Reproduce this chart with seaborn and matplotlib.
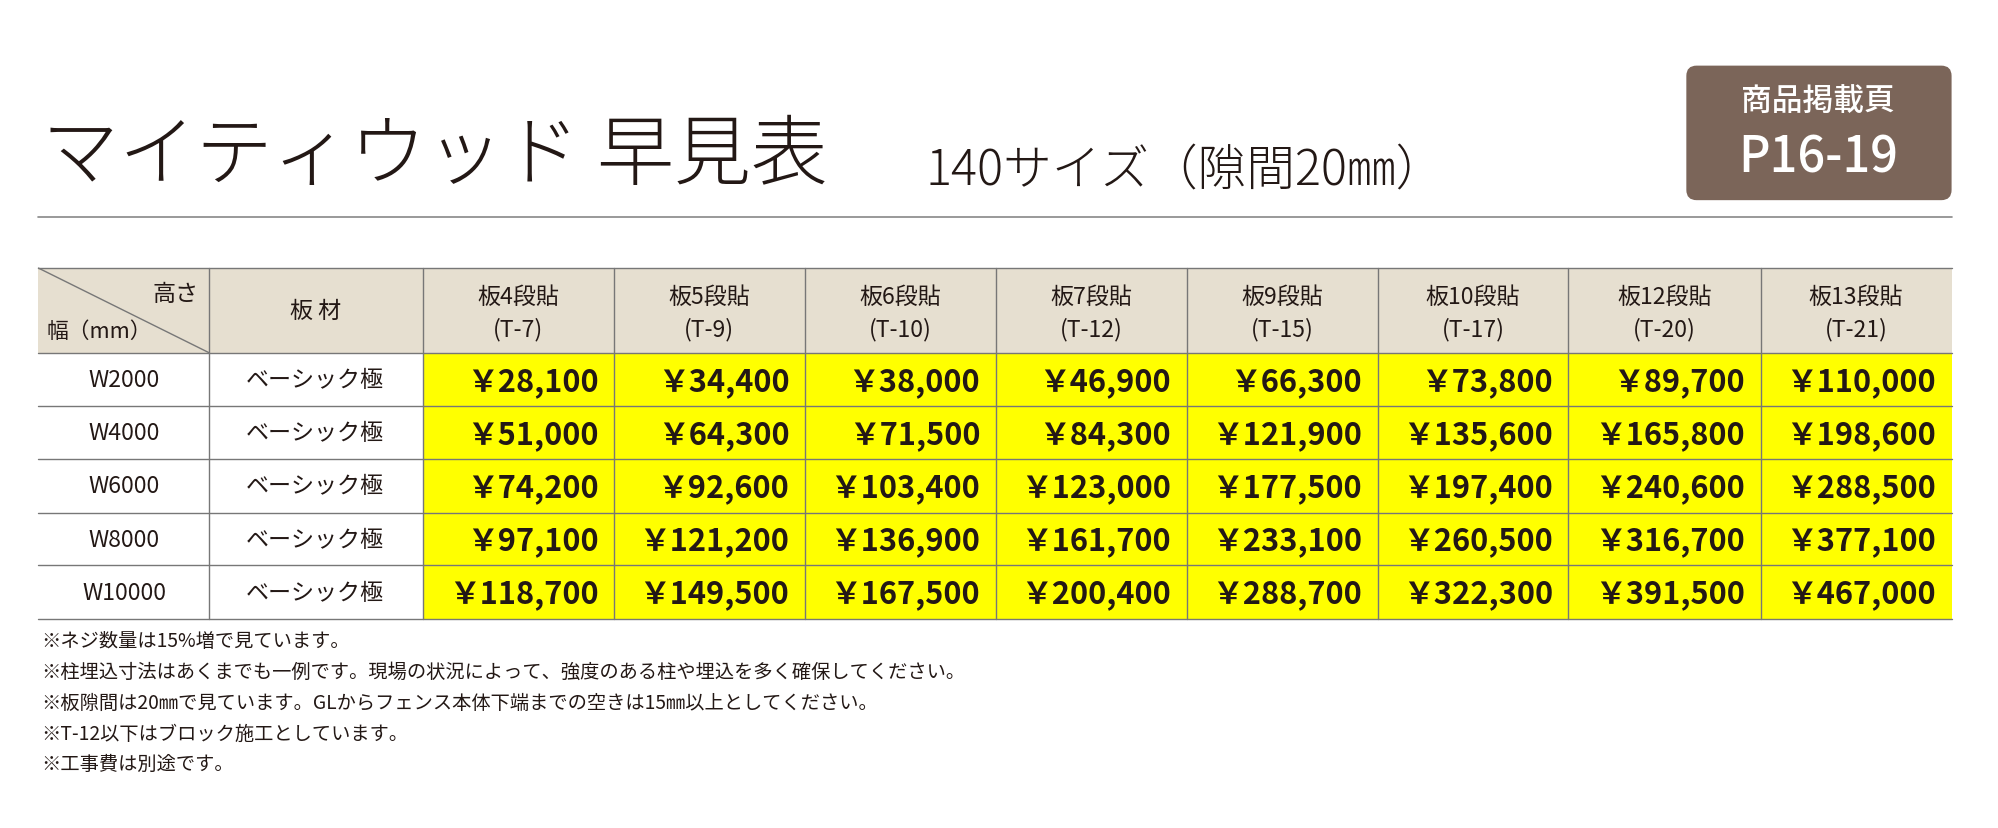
import matplotlib
matplotlib.use("Agg")
import matplotlib.pyplot as plt
import seaborn as sns
from matplotlib.patches import FancyBboxPatch, Rectangle

sns.set_theme(style="white")
plt.rcParams['font.family'] = ['Noto Sans CJK JP', 'DejaVu Sans']

title = "マイティウッド 早見表"
subtitle = "140サイズ（隙間20㎜）"
badge_top = "商品掲載頁"
badge_bottom = "P16-19"
col_heads = ["板4段貼\n(T-7)", "板5段貼\n(T-9)", "板6段貼\n(T-10)", "板7段貼\n(T-12)",
             "板9段貼\n(T-15)", "板10段貼\n(T-17)", "板12段貼\n(T-20)", "板13段貼\n(T-21)"]
widths = ["W2000", "W4000", "W6000", "W8000", "W10000"]
material = ["ベーシック極"] * 5
prices = [
    [28100, 34400, 38000, 46900, 66300, 73800, 89700, 110000],
    [51000, 64300, 71500, 84300, 121900, 135600, 165800, 198600],
    [74200, 92600, 103400, 123000, 177500, 197400, 240600, 288500],
    [97100, 121200, 136900, 161700, 233100, 260500, 316700, 377100],
    [118700, 149500, 167500, 200400, 288700, 322300, 391500, 467000],
]
notes = [
    "※ネジ数量は15%増で見ています。",
    "※柱埋込寸法はあくまでも一例です。現場の状況によって、強度のある柱や埋込を多く確保してください。",
    "※板隙間は20㎜で見ています。GLからフェンス本体下端までの空きは15㎜以上としてください。",
    "※T-12以下はブロック施工としています。",
    "※工事費は別途です。",
]

W, H = 1560, 647
S = 1999 / 1560
def fs(px):
    return px * S * 0.72

fig = plt.figure(figsize=(19.99, 8.29), dpi=100)
ax = fig.add_axes([0, 0, 1, 1])
ax.set_xlim(0, W); ax.set_ylim(H, 0); ax.axis('off')

txt = '#231815'
ax.text(33, 140, title, fontsize=fs(60), color=txt, va='baseline', ha='left', fontweight='light')
ax.text(722, 145, subtitle, fontsize=fs(38), color=txt, va='baseline', ha='left', fontweight='light')
ax.plot([30, 1523], [170, 170], color='#888888', lw=1.2)

ax.add_patch(FancyBboxPatch((1316, 52), 207, 105, boxstyle="round,pad=0,rounding_size=8",
                            fc='#7b6559', ec='none'))
ax.text(1419, 80, badge_top, fontsize=fs(24), color='white', ha='center', va='center', fontweight='medium')
ax.text(1419, 124, badge_bottom, fontsize=fs(38), color='white', ha='center', va='center', fontweight='medium')

cols = [30, 163, 330, 479, 628, 777, 926, 1075, 1224, 1374, 1523]
rows = [210, 276, 318, 359, 401, 442, 484]
beige = '#e6dfd0'
ax.add_patch(Rectangle((30, 210), 1493, 66, fc=beige, ec='none'))
for i in range(5):
    ax.add_patch(Rectangle((330, rows[i+1]), 1193, rows[i+2]-rows[i+1], fc='#ffff00', ec='none'))
gc = '#777777'
for y in rows:
    ax.plot([30, 1523], [y, y], color=gc, lw=1)
for x in cols[1:-1]:
    ax.plot([x, x], [210, 484], color=gc, lw=1)
ax.plot([30, 163], [210, 276], color=gc, lw=1)
ax.text(155, 230, "高さ", fontsize=fs(18), color=txt, ha='right', va='center')
ax.text(36, 259, "幅（mm）", fontsize=fs(17), color=txt, ha='left', va='center')
ax.text(246, 243, "板 材", fontsize=fs(18), color=txt, ha='center', va='center')
for j, h in enumerate(col_heads):
    cx = (cols[j+2] + cols[j+3]) / 2
    a, b = h.split("\n")
    ax.text(cx, 232, a, fontsize=fs(18), color=txt, ha='center', va='center')
    ax.text(cx, 257, b, fontsize=fs(18), color=txt, ha='center', va='center')
for i in range(5):
    cy = (rows[i+1] + rows[i+2]) / 2
    ax.text(97, cy, widths[i], fontsize=fs(18), color=txt, ha='center', va='center')
    ax.text(246, cy, material[i], fontsize=fs(18), color=txt, ha='center', va='center')
    for j in range(8):
        ax.text(cols[j+3] - 12, cy + 1, f"￥{prices[i][j]:,}", fontsize=fs(24), color=txt,
                ha='right', va='center', fontweight='bold')
for k, n in enumerate(notes):
    ax.text(32, 501 + k * 24, n, fontsize=fs(15), color=txt, ha='left', va='center')

fig.savefig("out.png", dpi=100, facecolor='white')
